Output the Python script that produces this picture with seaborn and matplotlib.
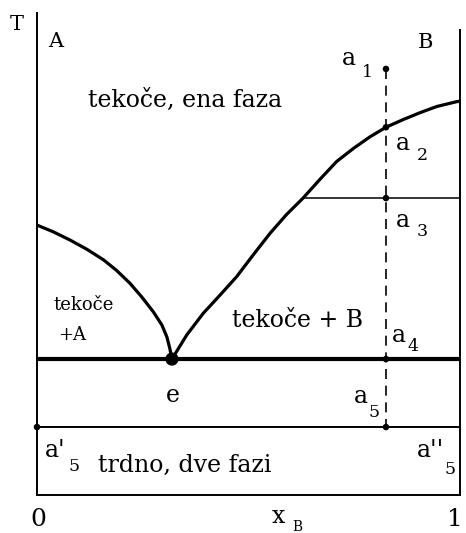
import matplotlib
matplotlib.use("Agg")
import matplotlib.pyplot as plt
import seaborn as sns
import pandas as pd

# Composition of B (mole fraction) and temperature (arbitrary units) along the liquidus curves
liq_A_x = [0.000, 0.0385, 0.078, 0.1175, 0.157, 0.188, 0.220, 0.2475, 0.275,
           0.295, 0.307, 0.314, 0.319]
liq_A_t = [56.0, 54.6, 52.9, 51.0, 48.8, 46.6, 43.9, 41.1, 38.0,
           35.3, 32.8, 30.4, 28.2]
liq_B_x = [0.319, 0.354, 0.393, 0.433, 0.472, 0.511, 0.551, 0.590, 0.629, 0.669,
           0.7085, 0.748, 0.787, 0.825, 0.866, 0.905, 0.945, 0.992, 1.000]
liq_B_t = [28.2, 33.2, 37.7, 41.5, 45.3, 49.8, 54.3, 58.2, 61.6, 65.5,
           69.2, 71.9, 74.3, 76.3, 77.9, 79.3, 80.6, 81.6, 81.7]

# Cooling path of one mixture and its characteristic temperatures
x_path = 0.825
t_a1, t_a2, t_a3, t_e, t_a5 = 88.4, 76.3, 61.6, 28.2, 14.1
x_e = 0.319
x_tie_start = 0.629
t_top_B = 96.5

sns.set_theme(style="white")
plt.rcParams["font.family"] = ["DejaVu Serif"]

W, H = 466, 533
fig = plt.figure(figsize=(W / 100, H / 100), dpi=100)
L, R, B, T = 37, 460, 495, 13
ax = fig.add_axes([L / W, 1 - B / H, (R - L) / W, (B - T) / H])
ax.set_xlim(0, 1)
ax.set_ylim(0, 100)
ax.set_xticks([])
ax.set_yticks([])
for s in ax.spines.values():
    s.set_color("black")
    s.set_linewidth(1.4)
ax.spines["top"].set_visible(False)
ax.spines["right"].set_bounds(0, t_top_B)

def at(px, py):
    return (px - L) / (R - L), (B - py) / (B - T) * 100

liqA = pd.DataFrame({"x": liq_A_x, "t": liq_A_t})
liqB = pd.DataFrame({"x": liq_B_x, "t": liq_B_t})
sns.lineplot(data=liqA, x="x", y="t", ax=ax, color="black", lw=2.3, sort=False)
sns.lineplot(data=liqB, x="x", y="t", ax=ax, color="black", lw=2.3, sort=False)

# eutectic line, tie lines, cooling path
ax.plot([0, 1], [t_e, t_e], color="black", lw=3.0, solid_capstyle="butt")
ax.plot([0, 1], [t_a5, t_a5], color="black", lw=1.4)
ax.plot([x_tie_start, 1], [t_a3, t_a3], color="black", lw=1.1)
ax.plot([x_path, x_path], [t_a1, t_a5], color="black", lw=1.2, dashes=(6, 4))

pts = pd.DataFrame({
    "x": [x_path, x_path, x_path, x_path, x_path, 0.0],
    "t": [t_a1, t_a2, t_a3, t_e, t_a5, t_a5],
})
sns.scatterplot(data=pts, x="x", y="t", ax=ax, color="black", s=22,
                edgecolor="none", clip_on=False, legend=False)
sns.scatterplot(x=[x_e], y=[t_e], ax=ax, color="black", s=90,
                edgecolor="none", legend=False)
ax.set_xlabel("")
ax.set_ylabel("")

def txt(px, py, s, size, ha="left"):
    x, y = at(px, py)
    ax.text(x, y, s, fontsize=size, ha=ha, va="baseline", color="black", clip_on=False)

big, lab, sub = 15, 17, 12.5
txt(10, 30, "T", big)
txt(48, 47, "A", big)
txt(418, 48, "B", big)
txt(88, 107, "tekoče, ena faza", lab)
txt(342, 65, "a", lab)
txt(362, 77, "1", sub)
txt(396, 150, "a", lab)
txt(417, 160, "2", sub)
txt(396, 227, "a", lab)
txt(417, 236, "3", sub)
txt(392, 342, "a", lab)
txt(407, 351, "4", sub)
txt(354, 403, "a", lab)
txt(368, 417, "5", sub)
txt(173, 402, "e", lab, ha="center")
txt(53, 310, "tekoče", 13)
txt(58, 340, "+A", 13)
txt(232, 327, "tekoče + B", lab)
txt(45, 457, "a'", lab)
txt(69, 471, "5", sub)
txt(98, 472, "trdno, dve fazi", lab)
txt(417, 457, "a''", lab)
txt(444, 474, "5", sub)
txt(38, 526, "0", 18, ha="center")
txt(455, 526, "1", 18, ha="center")
txt(272, 523, "x", lab)
txt(292, 531, "B", 10)

fig.savefig("out.png", dpi=100)
